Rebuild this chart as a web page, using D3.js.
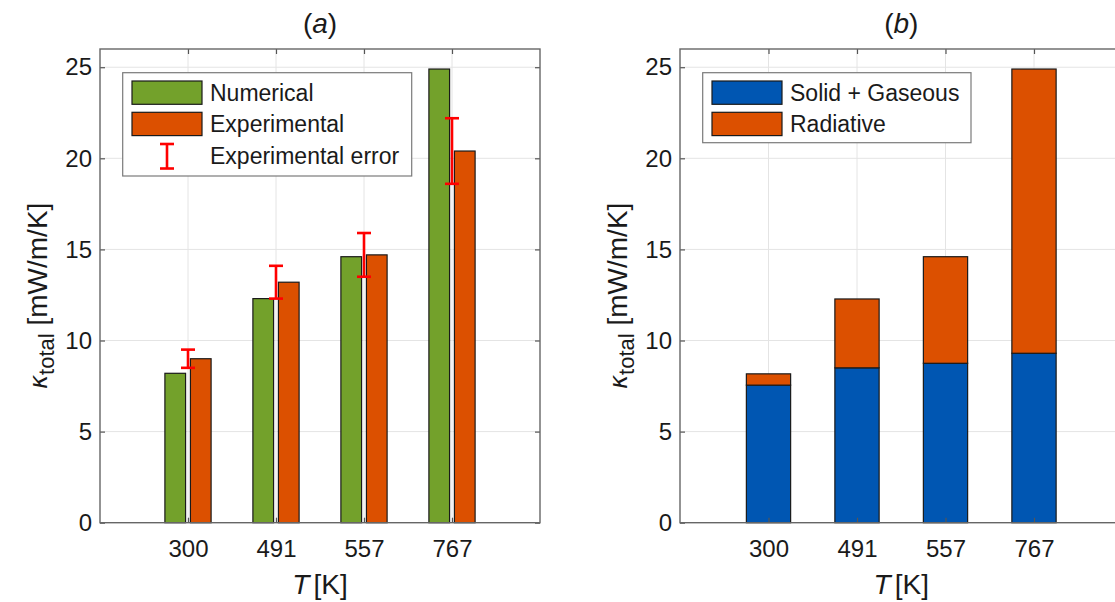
<!DOCTYPE html>
<html>
<head>
<meta charset="utf-8">
<script src="https://cdnjs.cloudflare.com/ajax/libs/d3/7.8.5/d3.min.js"></script>
<style>
  html, body { margin: 0; padding: 0; background: #fff; }
  svg { display: block; }
  text { font-family: "Liberation Sans", Arial, Helvetica, sans-serif; fill: #1a1a1a; }
</style>
</head>
<body>
<svg id="chart" width="1115" height="602"></svg>
<script>
// ---- data ----
const categories = ["300", "491", "557", "767"];
const numerical = [8.2, 12.3, 14.6, 24.9];
const experimental = [9.0, 13.2, 14.7, 20.4];
const experimentalError = [0.5, 0.9, 1.2, 1.8];
const solidGaseous = [7.55, 8.5, 8.75, 9.3];
const radiative = [0.62, 3.78, 5.85, 15.6];
const yTicks = [0, 5, 10, 15, 20, 25];
const legendA = ["Numerical", "Experimental", "Experimental error"];
const legendB = ["Solid + Gaseous", "Radiative"];
const titles = ["a", "b"];

// ---- styles ----
const GREEN = "#73a12b", ORANGE = "#dc5000", BLUE = "#0056b2", RED = "#ff0000";
const svg = d3.select("#chart");
svg.append("rect").attr("width", 1115).attr("height", 602).attr("fill", "#fff");

const plotTop = 49, plotBottom = 522.7;
const y = d3.scaleLinear().domain([0, 26]).range([plotBottom, plotTop]);

function panel(left, right, title) {
  const x = d3.scaleLinear().domain([0, 5]).range([left, right]);
  const g = svg.append("g");
  // grid
  g.append("g").selectAll("line").data(yTicks.slice(1)).join("line")
    .attr("x1", left).attr("x2", right).attr("y1", d => y(d)).attr("y2", d => y(d))
    .attr("stroke", "#e4e4e4").attr("stroke-width", 1);
  g.append("g").selectAll("line").data(categories).join("line")
    .attr("x1", (d, i) => x(i + 1)).attr("x2", (d, i) => x(i + 1)).attr("y1", plotTop).attr("y2", plotBottom)
    .attr("stroke", "#e4e4e4").attr("stroke-width", 1);
  const layer = g.append("g");
  const axes = g.append("g");
  // bottom axis
  const ax = axes.append("g").attr("transform", `translate(0,${plotBottom})`)
    .call(d3.axisBottom(x).tickValues([1, 2, 3, 4]).tickFormat(i => categories[i - 1])
      .tickSizeInner(-5).tickSizeOuter(0).tickPadding(17));
  ax.selectAll("text").attr("font-size", 24).attr("fill", "#262626");
  // top axis
  axes.append("g").attr("transform", `translate(0,${plotTop})`)
    .call(d3.axisTop(x).tickValues([1, 2, 3, 4]).tickFormat("").tickSizeInner(-5).tickSizeOuter(0));
  // left axis
  const ay = axes.append("g").attr("transform", `translate(${left},0)`)
    .call(d3.axisLeft(y).tickValues(yTicks).tickFormat(d3.format("d")).tickSizeInner(-5).tickSizeOuter(0).tickPadding(8));
  ay.selectAll("text").attr("font-size", 24).attr("fill", "#262626");
  // right axis
  axes.append("g").attr("transform", `translate(${right},0)`)
    .call(d3.axisRight(y).tickValues(yTicks).tickFormat("").tickSizeInner(-5).tickSizeOuter(0));
  axes.selectAll(".domain").remove();
  axes.selectAll(".tick line").attr("stroke", "#555").attr("stroke-width", 1.2);
  // box
  axes.append("rect").attr("x", left).attr("y", plotTop).attr("width", right - left).attr("height", plotBottom - plotTop)
    .attr("fill", "none").attr("stroke", "#666").attr("stroke-width", 1.4);
  // title
  const t = g.append("text").attr("x", (left + right) / 2).attr("y", 33).attr("text-anchor", "middle")
    .attr("font-size", 28).attr("font-family", "'Open Sans', 'Liberation Sans', sans-serif");
  t.append("tspan").text("(");
  t.append("tspan").attr("font-style", "italic").text(title);
  t.append("tspan").text(")");
  // x label
  const xl = g.append("text").attr("x", (left + right) / 2).attr("y", 594).attr("text-anchor", "middle")
    .attr("font-size", 28);
  xl.append("tspan").attr("font-style", "italic").text("T");
  xl.append("tspan").attr("dx", 4).text("[K]");
  // y label
  const yl = g.append("text").attr("transform", `translate(${left - 53},${(plotTop + plotBottom) / 2 + 10}) rotate(-90)`)
    .attr("text-anchor", "middle").attr("font-size", 28);
  yl.append("tspan").attr("font-family", "'DejaVu Sans', sans-serif").attr("font-style", "italic").attr("font-size", 24).text("κ");
  yl.append("tspan").attr("font-size", 22).attr("dy", 7).text("total");
  yl.append("tspan").attr("dy", -7).text(" [mW/m/K]");
  return { x, layer };
}

// ---- panel (a) ----
const A = panel(100, 540, titles[0]);
const bw = 0.235, off = 0.145;
A.layer.selectAll("rect.num").data(numerical).join("rect").attr("class", "num")
  .attr("x", (d, i) => A.x(i + 1 - off - bw / 2)).attr("width", A.x(bw) - A.x(0))
  .attr("y", d => y(d)).attr("height", d => y(0) - y(d))
  .attr("fill", GREEN).attr("stroke", "#1a1a1a").attr("stroke-width", 1.2);
A.layer.selectAll("rect.exp").data(experimental).join("rect").attr("class", "exp")
  .attr("x", (d, i) => A.x(i + 1 + off - bw / 2)).attr("width", A.x(bw) - A.x(0))
  .attr("y", d => y(d)).attr("height", d => y(0) - y(d))
  .attr("fill", ORANGE).attr("stroke", "#1a1a1a").attr("stroke-width", 1.2);
const eb = A.layer.append("g").attr("stroke", RED).attr("stroke-width", 2.6);
experimental.forEach((v, i) => {
  const cx = A.x(i + 1), e = experimentalError[i];
  eb.append("line").attr("x1", cx).attr("x2", cx).attr("y1", y(v - e)).attr("y2", y(v + e));
  eb.append("line").attr("x1", cx - 7).attr("x2", cx + 7).attr("y1", y(v - e)).attr("y2", y(v - e));
  eb.append("line").attr("x1", cx - 7).attr("x2", cx + 7).attr("y1", y(v + e)).attr("y2", y(v + e));
});
// legend (a)
const la = svg.append("g");
la.append("rect").attr("x", 122.7).attr("y", 72.7).attr("width", 289).attr("height", 103.3)
  .attr("fill", "#fff").attr("stroke", "#7a7a7a").attr("stroke-width", 1.2);
[GREEN, ORANGE].forEach((c, i) => {
  la.append("rect").attr("x", 132).attr("y", 81 + i * 31.3).attr("width", 70).attr("height", 23.3)
    .attr("fill", c).attr("stroke", "#1a1a1a").attr("stroke-width", 1.2);
});
const li = la.append("g").attr("stroke", RED).attr("stroke-width", 2.6);
li.append("line").attr("x1", 167).attr("x2", 167).attr("y1", 144).attr("y2", 168.5);
li.append("line").attr("x1", 160).attr("x2", 174).attr("y1", 144).attr("y2", 144);
li.append("line").attr("x1", 160).attr("x2", 174).attr("y1", 168.5).attr("y2", 168.5);
legendA.forEach((s, i) => {
  la.append("text").attr("x", 210).attr("y", 101 + i * 31.3).attr("font-size", 23).text(s);
});

// ---- panel (b) ----
const B = panel(680, 1122.5, titles[1]);
const bw2 = 0.5;
B.layer.selectAll("rect.sg").data(solidGaseous).join("rect").attr("class", "sg")
  .attr("x", (d, i) => B.x(i + 1 - bw2 / 2)).attr("width", B.x(bw2) - B.x(0))
  .attr("y", d => y(d)).attr("height", d => y(0) - y(d))
  .attr("fill", BLUE).attr("stroke", "#1a1a1a").attr("stroke-width", 1.2);
B.layer.selectAll("rect.rad").data(radiative).join("rect").attr("class", "rad")
  .attr("x", (d, i) => B.x(i + 1 - bw2 / 2)).attr("width", B.x(bw2) - B.x(0))
  .attr("y", (d, i) => y(solidGaseous[i] + d)).attr("height", (d, i) => y(solidGaseous[i]) - y(solidGaseous[i] + d))
  .attr("fill", ORANGE).attr("stroke", "#1a1a1a").attr("stroke-width", 1.2);
// legend (b)
const lb = svg.append("g");
lb.append("rect").attr("x", 702.7).attr("y", 72.7).attr("width", 268.3).attr("height", 70)
  .attr("fill", "#fff").attr("stroke", "#7a7a7a").attr("stroke-width", 1.2);
[BLUE, ORANGE].forEach((c, i) => {
  lb.append("rect").attr("x", 712).attr("y", 81 + i * 31.3).attr("width", 70).attr("height", 23.3)
    .attr("fill", c).attr("stroke", "#1a1a1a").attr("stroke-width", 1.2);
});
legendB.forEach((s, i) => {
  lb.append("text").attr("x", 790).attr("y", 101 + i * 31.3).attr("font-size", 23).text(s);
});
</script>
</body>
</html>
